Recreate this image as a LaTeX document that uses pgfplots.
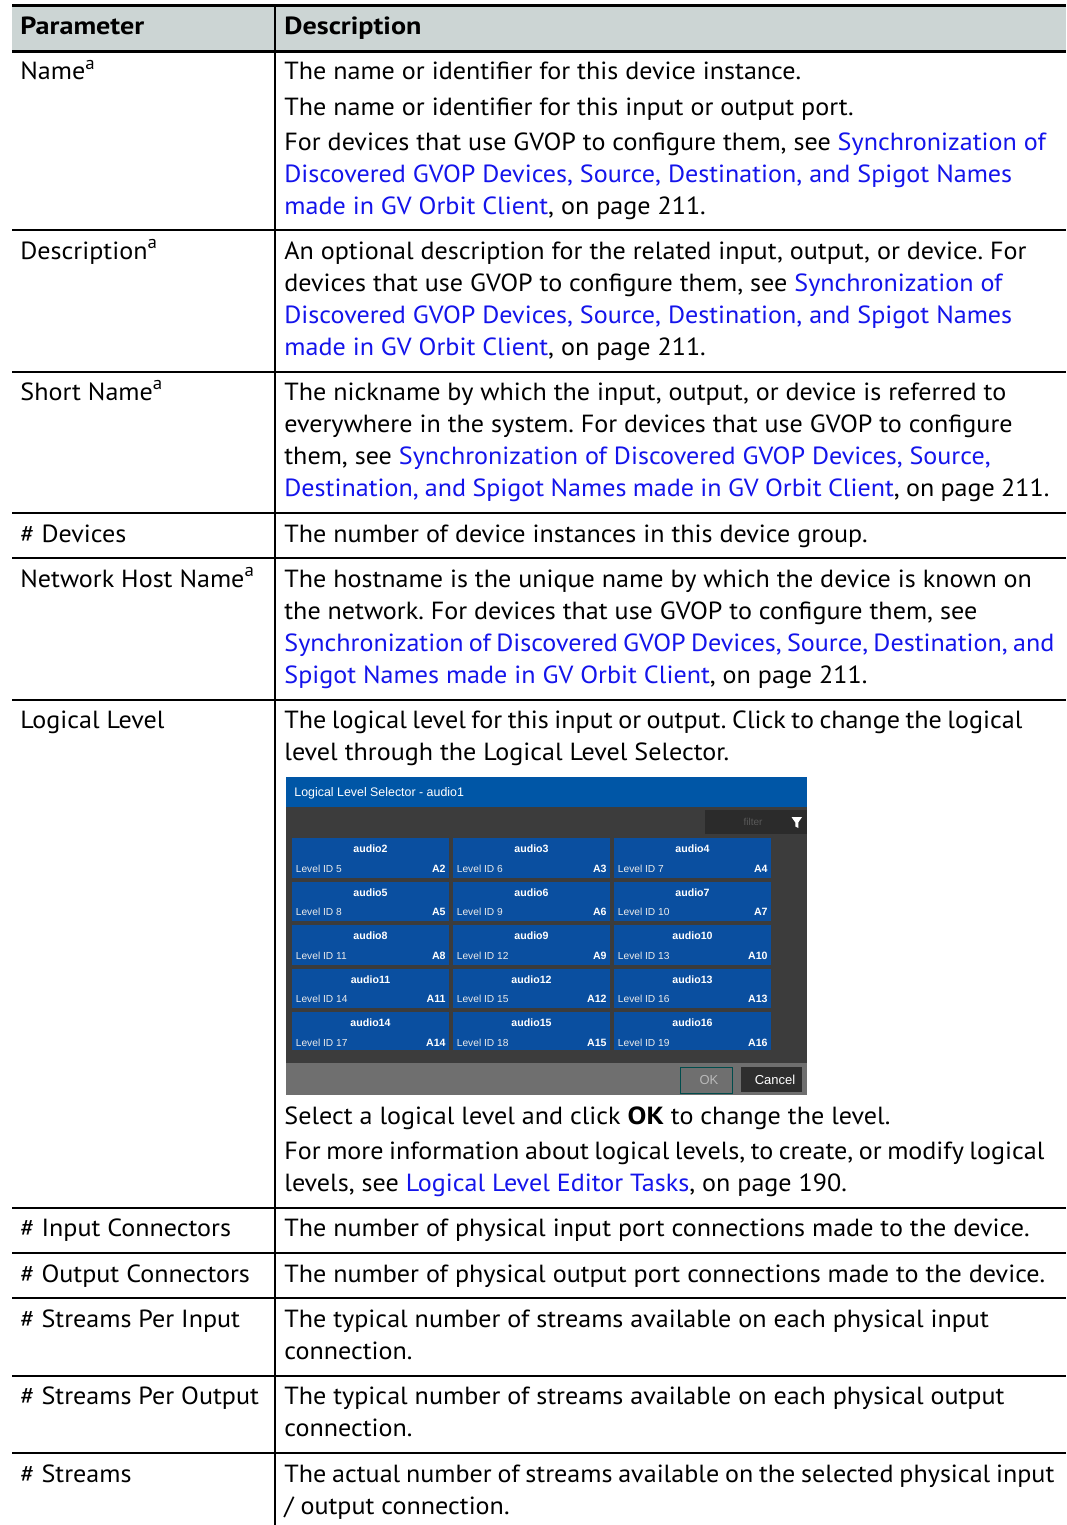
\documentclass[border=0pt]{standalone}
\usepackage{pgfplots}
\pgfplotsset{compat=1.18}
\usepackage{fontspec}
\setmainfont{PT Sans}[FakeStretch=1.052]
\newfontfamily\bfx{PT Sans Bold}[FakeStretch=1.135]
\newfontfamily\ui{Liberation Sans}
\definecolor{hdr}{HTML}{CCD5D4}
\definecolor{lnk}{RGB}{20,20,235}
\definecolor{tbar}{HTML}{0056A6}
\definecolor{tile}{HTML}{0A4FA0}
\definecolor{dbody}{HTML}{3C3C3C}
\definecolor{dfilt}{HTML}{2B2B2B}
\definecolor{dbot}{HTML}{6F6F6F}
\definecolor{dcan}{HTML}{2E2E2E}
\frenchspacing
\newcommand\body{\fontsize{12.4}{14}\selectfont\frenchspacing}
\newcommand\lk[1]{\textcolor{lnk}{#1}}
\newcommand\sa{\raisebox{0.44em}{\fontsize{9}{9}\selectfont a}}
\newcommand\rect[5]{\addplot[fill=#5,draw=none] coordinates {(#1,#2) (#3,#2) (#3,#4) (#1,#4)} -- cycle;}
\newcommand\tile[9]{%
  \rect{#1}{#4}{#2}{#5}{tile}
  \node[anchor=center,inner sep=0,text=white,font=\ui\bfseries\fontsize{5.3}{6}\selectfont] at (axis cs:#3,#6) {audio#8};
  \node[anchor=mid west,inner sep=0,text=white!92!black,font=\ui\fontsize{5.1}{6}\selectfont] at (axis cs:#1+3.5,#7) {Level ID #9};
  \node[anchor=mid east,inner sep=0,text=white,font=\ui\bfseries\fontsize{5.3}{6}\selectfont] at (axis cs:#2-3,#7) {A#8};
}
\tikzset{t/.style={anchor=base west,inner sep=0,font=\body}}
\begin{document}
\begin{tikzpicture}
\begin{axis}[scale only axis,width=533pt,height=762.5pt,hide axis,
  xmin=0,xmax=1066,ymin=0,ymax=1525,y dir=reverse,clip=false]
\rect{0}{0}{1066}{1525}{white}
% header
\rect{12}{6}{1066}{52}{hdr}
\addplot[black,line width=1.5pt] coordinates {(12,6) (1066,6)};
\addplot[black,line width=1.5pt] coordinates {(12,52) (1066,52)};
\foreach \yy in {230,372,513,558,700,1208,1253,1298,1376,1453} {
  \edef\tmp{\noexpand\addplot[black,line width=0.6pt] coordinates {(12,\yy) (1066,\yy)};}\tmp
}
\addplot[black,line width=0.6pt] coordinates {(275,6) (275,1525)};
\node[t,font=\body\bfx] at (axis cs:20,35) {Parameter};
\node[t,font=\body\bfx] at (axis cs:284,35) {Description};
% left column
\node[t] at (axis cs:20,80) {Name\sa};
\node[t] at (axis cs:20,259) {Description\sa};
\node[t] at (axis cs:20,400) {Short Name\sa};
\node[t] at (axis cs:20,542) {\# Devices};
\node[t] at (axis cs:20,587) {Network Host Name\sa};
\node[t] at (axis cs:20,728) {Logical Level};
\node[t] at (axis cs:20,1236) {\# Input Connectors};
\node[t] at (axis cs:20,1282) {\# Output Connectors};
\node[t] at (axis cs:20,1327) {\# Streams Per Input};
\node[t] at (axis cs:20,1404) {\# Streams Per Output};
\node[t] at (axis cs:20,1482) {\# Streams};
% right column
\node[t] at (axis cs:284,80) {The name or identifier for this device instance.};
\node[t] at (axis cs:284,116) {The name or identifier for this input or output port.};
\node[t] at (axis cs:284,150) {For devices that use GVOP to configure them, see \lk{Synchronization of}};
\node[t] at (axis cs:284,182) {\lk{Discovered GVOP Devices, Source, Destination, and Spigot Names}};
\node[t] at (axis cs:284,214) {\lk{made in GV Orbit Client}, on page 211.};
\node[t] at (axis cs:284,259) {An optional description for the related input, output, or device. For};
\node[t] at (axis cs:284,291) {devices that use GVOP to configure them, see \lk{Synchronization of}};
\node[t] at (axis cs:284,323) {\lk{Discovered GVOP Devices, Source, Destination, and Spigot Names}};
\node[t] at (axis cs:284,355) {\lk{made in GV Orbit Client}, on page 211.};
\node[t] at (axis cs:284,400) {The nickname by which the input, output, or device is referred to};
\node[t] at (axis cs:284,432) {everywhere in the system. For devices that use GVOP to configure};
\node[t] at (axis cs:284,464) {them, see \lk{Synchronization of Discovered GVOP Devices, Source,}};
\node[t] at (axis cs:284,496) {\makebox[382.5pt][s]{\lk{Destination, and Spigot Names made in GV Orbit Client}, on page 211.}};
\node[t] at (axis cs:284,542) {The number of device instances in this device group.};
\node[t] at (axis cs:284,587) {The hostname is the unique name by which the device is known on};
\node[t] at (axis cs:284,619) {the network. For devices that use GVOP to configure them, see};
\node[t] at (axis cs:284,651) {\makebox[385pt][s]{\lk{Synchronization of Discovered GVOP Devices, Source, Destination, and}}};
\node[t] at (axis cs:284,683) {\lk{Spigot Names made in GV Orbit Client}, on page 211.};
\node[t] at (axis cs:284,728) {\makebox[369pt][s]{The logical level for this input or output. Click to change the logical}};
\node[t] at (axis cs:284,760) {level through the Logical Level Selector.};
\node[t] at (axis cs:284,1124) {Select a logical level and click {\bfx OK} to change the level.};
\node[t] at (axis cs:284,1159) {\makebox[380pt][s]{For more information about logical levels, to create, or modify logical}};
\node[t] at (axis cs:284,1191) {levels, see \lk{Logical Level Editor Tasks}, on page 190.};
\node[t] at (axis cs:284,1236) {The number of physical input port connections made to the device.};
\node[t] at (axis cs:284,1282) {The number of physical output port connections made to the device.};
\node[t] at (axis cs:284,1327) {The typical number of streams available on each physical input};
\node[t] at (axis cs:284,1359) {connection.};
\node[t] at (axis cs:284,1404) {The typical number of streams available on each physical output};
\node[t] at (axis cs:284,1436) {connection.};
\node[t] at (axis cs:284,1482) {\makebox[385pt][s]{The actual number of streams available on the selected physical input}};
\node[t] at (axis cs:284,1514) {/ output connection.};
% dialog
\rect{286}{777}{807}{807}{tbar}
\rect{286}{807}{807}{1063}{dbody}
\rect{705}{810}{807}{834}{dfilt}
\rect{286}{1063}{807}{1095}{dbot}
\rect{741}{1067}{802}{1092}{dcan}
\addplot[draw=teal!60!black,line width=0.4pt] coordinates {(680,1067) (732,1067) (732,1093) (680,1093)} -- cycle;
\addplot[fill=white,draw=none] coordinates {(791.5,817) (802,817) (798.3,822.5) (798.3,828) (795.3,826.5) (795.3,822.5)} -- cycle;
\node[anchor=mid west,inner sep=0,text=white,font=\ui\fontsize{6.2}{7}\selectfont] at (axis cs:294,791) {Logical Level Selector - audio1};
\node[anchor=center,inner sep=0,text=gray!70!black,font=\ui\fontsize{5}{6}\selectfont] at (axis cs:753,822) {filter};
\node[anchor=center,inner sep=0,text=gray!55,font=\ui\fontsize{6.5}{7}\selectfont] at (axis cs:709,1080) {OK};
\node[anchor=center,inner sep=0,text=white,font=\ui\fontsize{6.5}{7}\selectfont] at (axis cs:775,1080) {Cancel};
\tile{292}{449}{370.5}{838}{878}{849}{867}{2}{5}
\tile{453}{610}{531.5}{838}{878}{849}{867}{3}{6}
\tile{614}{771}{692.5}{838}{878}{849}{867}{4}{7}
\tile{292}{449}{370.5}{881.5}{921}{892.5}{910.5}{5}{8}
\tile{453}{610}{531.5}{881.5}{921}{892.5}{910.5}{6}{9}
\tile{614}{771}{692.5}{881.5}{921}{892.5}{910.5}{7}{10}
\tile{292}{449}{370.5}{925}{965}{936}{954}{8}{11}
\tile{453}{610}{531.5}{925}{965}{936}{954}{9}{12}
\tile{614}{771}{692.5}{925}{965}{936}{954}{10}{13}
\tile{292}{449}{370.5}{968.5}{1008}{979.5}{997.5}{11}{14}
\tile{453}{610}{531.5}{968.5}{1008}{979.5}{997.5}{12}{15}
\tile{614}{771}{692.5}{968.5}{1008}{979.5}{997.5}{13}{16}
\tile{292}{449}{370.5}{1012}{1050}{1023}{1041}{14}{17}
\tile{453}{610}{531.5}{1012}{1050}{1023}{1041}{15}{18}
\tile{614}{771}{692.5}{1012}{1050}{1023}{1041}{16}{19}
\end{axis}
\pgfresetboundingbox
\path (current axis.south west) rectangle (current axis.north east);
\end{tikzpicture}
\end{document}
